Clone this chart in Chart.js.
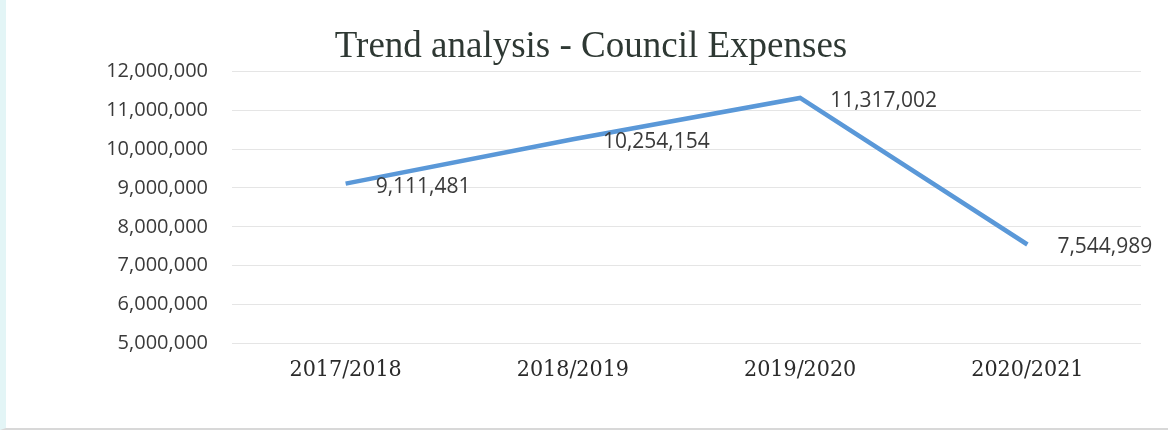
<!DOCTYPE html>
<html>
<head>
<meta charset="utf-8">
<title>Trend analysis - Council Expenses</title>
<script src="https://cdn.jsdelivr.net/npm/chart.js@4/dist/chart.umd.min.js"></script>
<style>
  html, body { margin: 0; padding: 0; background: #fff; }
  #wrap {
    position: relative;
    width: 1168px;
    height: 430px;
    box-sizing: border-box;
    border-left: 6px solid #e3f5f6;
    border-bottom: 2px solid #d8d8d8;
  }
  #chart { position: absolute; left: -6px; top: 0; }
</style>
</head>
<body>
<div id="wrap">
  <canvas id="chart" width="1168" height="430"></canvas>
</div>
<script>
// dados do gráfico
const anos = ['2017/2018', '2018/2019', '2019/2020', '2020/2021'];
const despesas = [9111481, 10254154, 11317002, 7544989];
const eixoMin = 5000000;
const eixoMax = 12000000;
const eixoPasso = 1000000;

const fmt = v => v.toLocaleString('en-US');

// escreve o valor ao lado de cada ponto da linha
const rotulosValores = {
    id: 'rotulosValores',
    afterDatasetsDraw(chart) {
        const ctx = chart.ctx;
        const meta = chart.getDatasetMeta(0);
        ctx.save();
        ctx.font = '21px "Open Sans", sans-serif';
        ctx.fillStyle = '#3a3a3a';
        ctx.textAlign = 'left';
        ctx.textBaseline = 'middle';
        meta.data.forEach((pt, i) => {
            ctx.fillText(fmt(despesas[i]), pt.x + 30, pt.y + 3);
        });
        ctx.restore();
    }
};

const ctx = document.getElementById('chart').getContext('2d');
new Chart(ctx, {
    type: 'line',
    data: {
        labels: anos,
        datasets: [{
            label: 'Council Expenses',
            data: despesas,
            borderColor: '#5a98d8',
            borderWidth: 4.5,
            pointRadius: 0,
            tension: 0,
            fill: false
        }]
    },
    options: {
        responsive: false,
        animation: false,
        layout: { padding: { left: 41, right: 27, top: 0, bottom: 33 } },
        plugins: {
            legend: { display: false },
            tooltip: { enabled: false },
            title: {
                display: true,
                text: 'Trend analysis - Council Expenses',
                color: '#2e3833',
                font: { family: '"Liberation Serif", serif', size: 37, weight: 'normal' },
                padding: { top: 25, bottom: 2 }
            }
        },
        scales: {
            x: {
                offset: true,
                grid: { display: false, drawTicks: false },
                border: { display: false },
                ticks: {
                    color: '#2a2a2a',
                    padding: 13,
                    font: { family: '"DejaVu Serif Condensed", "Liberation Serif", serif', size: 23 }
                }
            },
            y: {
                min: eixoMin,
                max: eixoMax,
                afterFit(scale) { scale.width = 191; },
                grid: {
                    color: 'rgba(0,0,0,0.10)',
                    drawTicks: false
                },
                border: { display: false },
                ticks: {
                    stepSize: eixoPasso,
                    padding: 24,
                    color: '#3a3a3a',
                    font: { family: '"Open Sans", sans-serif', size: 20 },
                    callback: v => fmt(v)
                }
            }
        }
    },
    plugins: [rotulosValores]
});
</script>
</body>
</html>
